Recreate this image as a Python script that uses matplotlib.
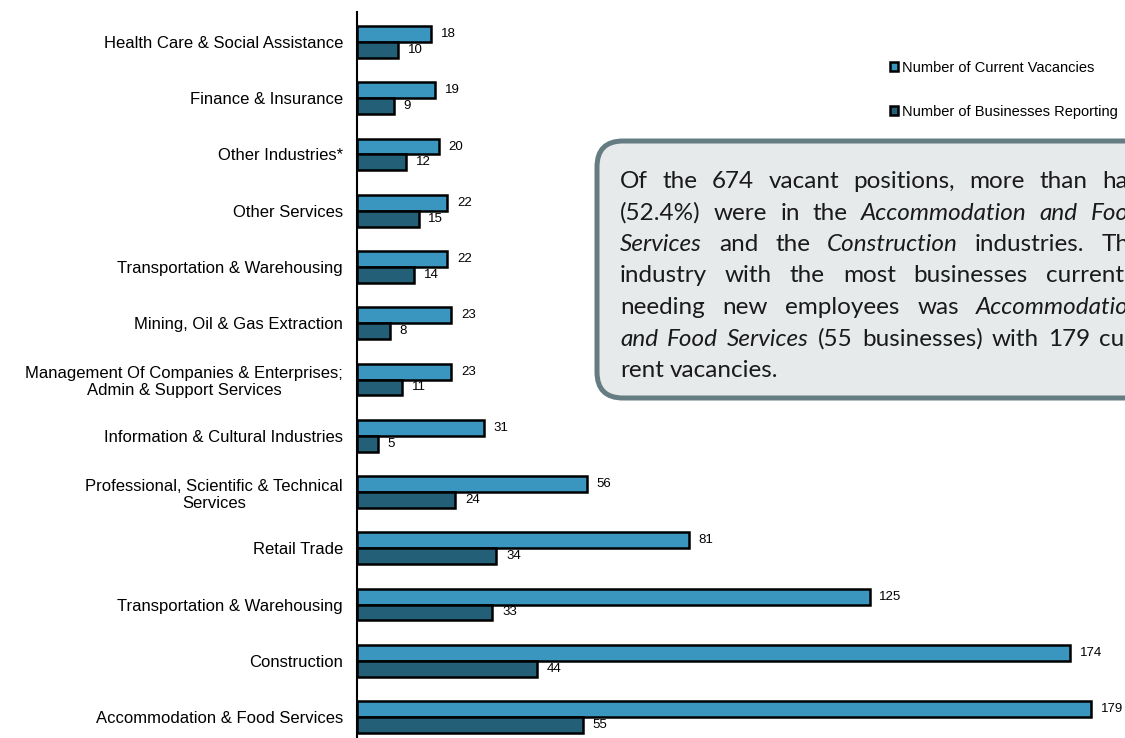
import numpy as np
import matplotlib
matplotlib.use("Agg")
import matplotlib.pyplot as plt
from matplotlib.patches import FancyBboxPatch
from matplotlib.transforms import IdentityTransform

industries = [
    "Health Care & Social Assistance",
    "Finance & Insurance",
    "Other Industries*",
    "Other Services",
    "Transportation & Warehousing",
    "Mining, Oil & Gas Extraction",
    "Management Of Companies & Enterprises;\nAdmin & Support Services",
    "Information & Cultural Industries",
    "Professional, Scientific & Technical\nServices",
    "Retail Trade",
    "Transportation & Warehousing",
    "Construction",
    "Accommodation & Food Services",
]
vacancies = [18, 19, 20, 22, 22, 23, 23, 31, 56, 81, 125, 174, 179]
businesses = [10, 9, 12, 15, 14, 8, 11, 5, 24, 34, 33, 44, 55]

series_labels = ["Number of Current Vacancies", "Number of Businesses Reporting"]

# note box text, one line per entry; words starting with _ are italic
note_lines = [
    "Of the 674 vacant positions, more than half",
    "(52.4%) were in the _Accommodation _and _Food",
    "_Services and the _Construction industries. The",
    "industry with the most businesses currently",
    "needing new employees was _Accommodation",
    "_and _Food _Services (55 businesses) with 179 cur-",
    "rent vacancies.",
]

light = "#3a96be"
dark = "#245f78"

W, H = 1125, 738
fig = plt.figure(figsize=(W / 100, H / 100), dpi=100)
ax = fig.add_axes([357 / W, 0, 1 - 357 / W, 1 - 12 / H])

y = np.arange(len(industries))
h = 0.284

b1 = ax.barh(y - h / 2, vacancies, height=h, color=light, edgecolor="black",
             linewidth=1.8, label=series_labels[0])
b2 = ax.barh(y + h / 2, businesses, height=h, color=dark, edgecolor="black",
             linewidth=1.8, label=series_labels[1])

for yy, v in zip(y - h / 2, vacancies):
    ax.annotate(str(v), (v, yy), xytext=(7, 0), textcoords="offset points",
                va="center", ha="left", fontsize=9.5, family="Liberation Sans")
for yy, v in zip(y + h / 2, businesses):
    ax.annotate(str(v), (v, yy), xytext=(7, 0), textcoords="offset points",
                va="center", ha="left", fontsize=9.5, family="Liberation Sans")

ax.set_xlim(0, 187.3)
ax.set_ylim(12 + 0.373, -0.533)
ax.set_xticks([])
ax.set_yticks(y)
ax.set_yticklabels(industries, fontsize=12, family="Liberation Sans")
for lab in ax.get_yticklabels():
    lab.set_multialignment("center")
ax.tick_params(axis="y", length=0, pad=10)
for s in ["top", "right", "bottom"]:
    ax.spines[s].set_visible(False)
ax.spines["left"].set_linewidth(1.5)
ax.spines["left"].set_color("black")

leg = ax.legend(handles=[b1, b2], loc="upper left",
                bbox_to_anchor=(890 / W, 1 - 61 / H), bbox_transform=fig.transFigure,
                frameon=False, handlelength=0.55, handleheight=0.55,
                handletextpad=0.25, labelspacing=2.05, borderpad=0, borderaxespad=0,
                prop={"family": "Liberation Sans", "size": 10.5})

# note box, in pixel coordinates
box = FancyBboxPatch((597, H - 398), 700, 257,
                     boxstyle="round,pad=0,rounding_size=26",
                     transform=IdentityTransform(), facecolor="#e7eaeb",
                     edgecolor="#667c83", linewidth=3.6)
fig.add_artist(box)

renderer = fig.canvas.get_renderer()
x0, x1 = 620, 1142
base0, step = 188, 31.5
fs = 17.5
for i, line in enumerate(note_lines):
    words = line.split(" ")
    arts = []
    for wd in words:
        italic = wd.startswith("_")
        t = fig.text(0, 0, wd.lstrip("_"), fontsize=fs, family="Lato",
                     style="italic" if italic else "normal", va="baseline",
                     ha="left", color="#1a1a1a")
        arts.append(t)
    widths = [t.get_window_extent(renderer).width for t in arts]
    if i < len(note_lines) - 1 and len(arts) > 1:
        gap = (x1 - x0 - sum(widths)) / (len(arts) - 1)
    else:
        gap = fs * 100 / 72 * 0.26
    xx = x0
    yb = base0 + i * step
    for t, wdt in zip(arts, widths):
        t.set_position((xx / W, 1 - yb / H))
        xx += wdt + gap

fig.savefig("out.png", dpi=100)
